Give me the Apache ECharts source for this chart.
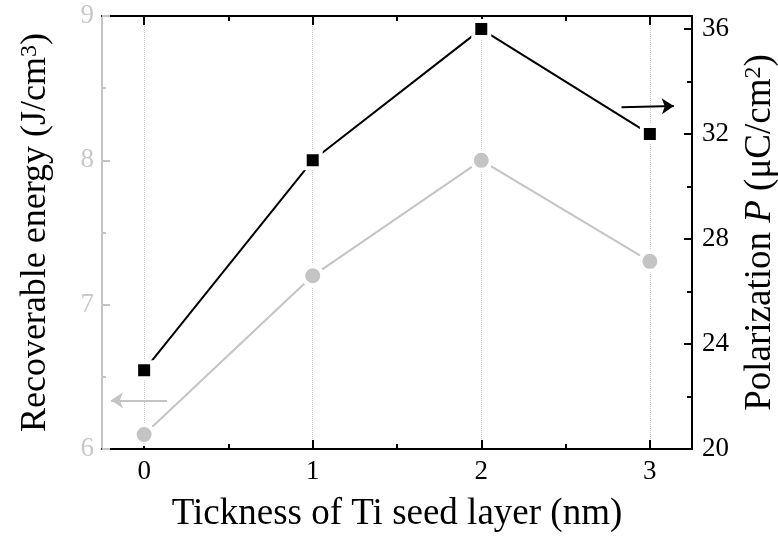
<!DOCTYPE html>
<html>
<head>
<meta charset="utf-8">
<script src="https://cdn.jsdelivr.net/npm/echarts@6/dist/echarts.min.js"></script>
<style>html,body{margin:0;padding:0;background:#fff;}#c{width:778px;height:539px;}</style>
</head>
<body>
<div id="c"></div>
<script>
// ---- data ----
const thickness = [0, 1, 2, 3];
const energy = [6.1, 7.2, 8.0, 7.3];           // J/cm^3, left axis
const polarization = [23.0, 31.0, 36.0, 32.0];  // uC/cm^2, right axis
const xTicks = [0, 1, 2, 3];
const xMinorTicks = [0.5, 1.5, 2.5];
const rightTicks = [20, 24, 28, 32, 36];
const rightMinorTicks = [22, 26, 30, 34];
// arrows (data coordinates)
const grayArrow = [[0.135, 6.337], [-0.197, 6.337]];
const blackArrow = [[2.832, 33.02], [3.142, 33.07]];

const FONT = 'Liberation Serif';
const GRAY = '#c4c4c4';
const GRAYTXT = '#c8c8c8';

const chart = echarts.init(document.getElementById('c'), null, {renderer: 'canvas'});

const xBase = {type: 'value', min: -0.25, max: 3.25, gridIndex: 0};
const option = {
  backgroundColor: '#fff',
  animation: false,
  grid: {left: 102, right: 86, top: 16, bottom: 90, containLabel: false, outerBoundsMode: 'none'},
  xAxis: [
    Object.assign({}, xBase, {
      position: 'bottom',
      name: 'Tickness of Ti seed layer (nm)',
      nameLocation: 'middle', nameGap: 47,
      nameTextStyle: {fontFamily: FONT, fontSize: 37, color: '#000'},
      axisLine: {show: true, onZero: false, lineStyle: {color: '#000', width: 2}},
      axisTick: {show: true, inside: true, length: 9, customValues: xTicks, lineStyle: {color: '#000', width: 2}},
      axisLabel: {show: true, customValues: xTicks, margin: 9, fontFamily: FONT, fontSize: 27, color: '#000'},
      splitLine: {show: true, lineStyle: {color: '#c8c8c8', type: 'dotted', width: 1}},
      minorTick: {show: false}
    }),
    Object.assign({}, xBase, {
      position: 'bottom',
      axisLine: {show: false, onZero: false},
      axisTick: {show: true, inside: true, length: 5, customValues: xMinorTicks, lineStyle: {color: '#000', width: 2}},
      axisLabel: {show: false},
      splitLine: {show: false}
    }),
    Object.assign({}, xBase, {
      position: 'top',
      axisLine: {show: true, onZero: false, lineStyle: {color: '#000', width: 2}},
      axisTick: {show: true, inside: true, length: 9, customValues: xTicks, lineStyle: {color: '#000', width: 2}},
      axisLabel: {show: false},
      splitLine: {show: false}
    }),
    Object.assign({}, xBase, {
      position: 'top',
      axisLine: {show: false, onZero: false},
      axisTick: {show: true, inside: true, length: 5, customValues: xMinorTicks, lineStyle: {color: '#000', width: 2}},
      axisLabel: {show: false},
      splitLine: {show: false}
    })
  ],
  yAxis: [
    {
      type: 'value', position: 'left', min: 6, max: 9, interval: 1,
      name: '{a|Recoverable energy (J/cm}{s|3}{a|)}',
      nameLocation: 'middle', nameGap: 48, nameRotate: 90,
      nameTextStyle: {
        fontFamily: FONT, fontSize: 36, color: '#000',
        rich: {
          a: {fontFamily: FONT, fontSize: 36, color: '#000'},
          s: {fontFamily: FONT, fontSize: 24, color: '#000', verticalAlign: 'top'}
        }
      },
      axisLine: {show: true, onZero: false, lineStyle: {color: GRAY, width: 2}},
      axisTick: {show: true, inside: true, length: 8, lineStyle: {color: GRAY, width: 2}},
      minorTick: {show: true, splitNumber: 2, length: 4, lineStyle: {color: GRAY, width: 2}},
      axisLabel: {show: true, margin: 8, fontFamily: FONT, fontSize: 27, color: GRAYTXT},
      splitLine: {show: false}
    },
    {
      type: 'value', position: 'right', min: 20, max: 36.5,
      name: '{a|Polarization }{i|P}{a| (μC/cm}{s|2}{a|)}',
      nameLocation: 'middle', nameGap: 50, nameRotate: 90,
      nameTextStyle: {
        fontFamily: FONT, fontSize: 37, color: '#000',
        rich: {
          a: {fontFamily: FONT, fontSize: 37, color: '#000'},
          i: {fontFamily: FONT, fontSize: 37, color: '#000', fontStyle: 'italic'},
          s: {fontFamily: FONT, fontSize: 24, color: '#000', verticalAlign: 'top'}
        }
      },
      axisLine: {show: true, onZero: false, lineStyle: {color: '#000', width: 2}},
      axisTick: {show: true, inside: true, length: 8, customValues: rightTicks, lineStyle: {color: '#000', width: 2}},
      axisLabel: {show: true, customValues: rightTicks, margin: 10, fontFamily: FONT, fontSize: 27, color: '#000'},
      splitLine: {show: false}
    },
    {
      type: 'value', position: 'right', min: 20, max: 36.5,
      axisLine: {show: false, onZero: false},
      axisTick: {show: true, inside: true, length: 5, customValues: rightMinorTicks, lineStyle: {color: '#000', width: 2}},
      axisLabel: {show: false},
      splitLine: {show: false}
    }
  ],
  series: [
    {
      type: 'line', name: 'energy', xAxisIndex: 0, yAxisIndex: 0,
      data: thickness.map((x, i) => [x, energy[i]]),
      symbol: 'circle', symbolSize: 19,
      itemStyle: {color: GRAY, borderColor: '#fff', borderWidth: 4},
      lineStyle: {color: GRAY, width: 2},
      z: 3,
      markLine: {
        silent: true, symbol: ['none', 'arrow'], symbolSize: 12,
        label: {show: false},
        lineStyle: {color: GRAY, width: 2, type: 'solid'},
        data: [[{coord: grayArrow[0]}, {coord: grayArrow[1]}]]
      }
    },
    {
      type: 'line', name: 'polarization', xAxisIndex: 0, yAxisIndex: 1,
      data: thickness.map((x, i) => [x, polarization[i]]),
      symbol: 'rect', symbolSize: 16,
      itemStyle: {color: '#000', borderColor: '#fff', borderWidth: 4},
      lineStyle: {color: '#000', width: 2},
      z: 4,
      markLine: {
        silent: true, symbol: ['none', 'arrow'], symbolSize: 12,
        label: {show: false},
        lineStyle: {color: '#000', width: 2, type: 'solid'},
        data: [[{coord: blackArrow[0]}, {coord: blackArrow[1]}]]
      }
    }
  ]
};
chart.setOption(option);
</script>
</body>
</html>
